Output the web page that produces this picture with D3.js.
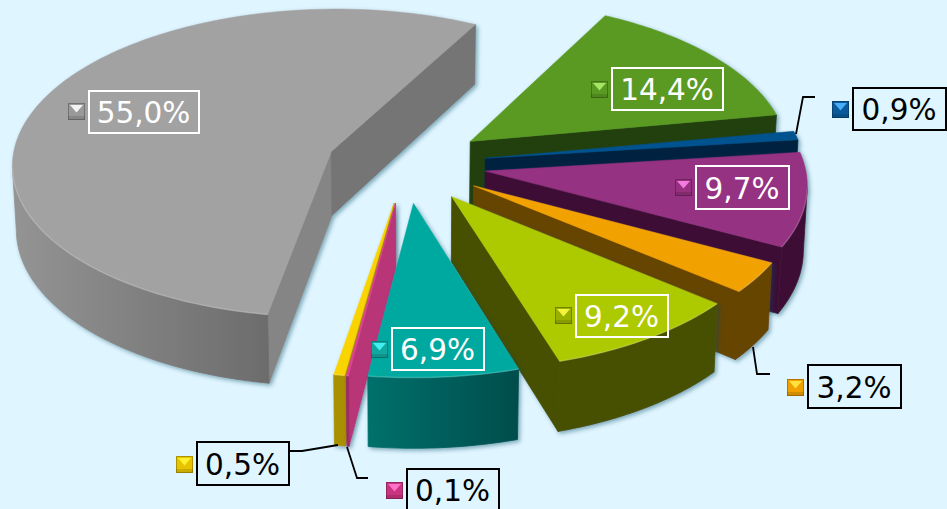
<!DOCTYPE html>
<html>
<head>
<meta charset="utf-8">
<style>
  html, body { margin: 0; padding: 0; background: #dff5ff; overflow: hidden; }
  svg { display: block; }
  text { font-family: "DejaVu Sans", Verdana, sans-serif; }
</style>
<script src="https://cdnjs.cloudflare.com/ajax/libs/d3/7.8.5/d3.min.js"></script>
</head>
<body>
<svg id="chart" width="947" height="509"></svg>
<script>
// Share of each category, clockwise around the pie
const shares = [55.0, 14.4, 0.9, 9.7, 3.2, 9.2, 6.9, 0.1, 0.5];
const shareLabels = ["55,0%", "14,4%", "0,9%", "9,7%", "3,2%", "9,2%", "6,9%", "0,1%", "0,5%"];

// Slices are painted back to front
const paintOrder = [0, 1, 2, 3, 4, 5, 8, 7, 6];

// Face colours per slice
const topColors = ["#a2a2a2", "#5a9a24", "#00528f", "#963082", "#f2a200", "#adc900", "#00a9a0", "#e0409a", "#fad400"];
const rimLeftColors = ["#949494", "#22400a", "#002440", "#3d1135", "#664400", "#465000", "#00706b", "#9c2a66", "#a89000"];
const rimRightColors = ["#6c6c6c", "#22400a", "#002440", "#3d1135", "#664400", "#465000", "#004d4c", "#9c2a66", "#a89000"];
const startWallColors = ["#858585", "#22400a", "#002440", "#3d1135", "#664400", "#465000", "#00706b", "#b83478", "#a89000"];
const endWallColors = ["#747474", "#22400a", "#002440", "#3d1135", "#664400", "#465000", "#00706b", "#b83478", "#a89000"];
const keyColors = ["#999999", "#5a9a24", "#0a5a9a", "#96307f", "#f0a000", "#9ab000", "#12a8a0", "#c8347f", "#e6c400"];
const keyLightColors = ["#f2f2f2", "#a6e464", "#48aef5", "#f27ae0", "#ffe23c", "#f4f43c", "#40f0f0", "#ff70c8", "#fff030"];

// Label frames: left, top, right, bottom
const frameLeft = [89, 612, 853, 696, 808, 576, 392, 407, 197];
const frameTop = [91, 68, 88, 166, 365, 295, 328, 469, 442];
const frameRight = [199, 723, 946, 789, 901, 668, 484, 499, 289];
const frameBottom = [133, 110, 130, 209, 408, 337, 370, 511, 485];
const keyLeft = [68, 591, 832, 675, 787, 555, 371, 386, 176];
const keyTop = [103, 81, 101, 179, 379, 307, 341, 482, 456];
const labelInk = ["#fff", "#fff", "#000", "#fff", "#000", "#fff", "#fff", "#000", "#000"];

// Leader lines for the labels placed outside their slices
const leaders = [
  { i: 2, pts: [[796, 134], [803, 97], [815, 97]] },
  { i: 4, pts: [[753, 347], [757, 374], [770, 374]] },
  { i: 7, pts: [[347, 447], [357, 478], [368, 478]] },
  { i: 8, pts: [[338, 445], [302, 451], [290, 451]] }
];

// View of the pie: tilted disc with slight perspective
const centerX = 406.5, centerY = 164, radiusX = 319.5, radiusY = 155;
const perspective = 0.075, thickness = 64, baseShrink = 0.99, explode = 0.25;
const firstAngle = -170.3;

const xScale = d3.scaleLinear().domain([-1, 1]).range([centerX - radiusX, centerX + radiusX]);
const yScale = d3.scaleLinear().domain([-1, 1]).range([centerY + radiusY, centerY - radiusY]);

// Ground-plane point to the screen, on the top face of the disc
function project(u, v) {
  const f = 1 / (1 + perspective * v);
  return [xScale(u * f), yScale(v * f), f];
}
// The same point on the underside of the disc
function drop(p) {
  return [centerX + (p[0] - centerX) * baseShrink, p[1] + thickness * p[2]];
}

const pie = d3.pie().sort(null)
  .startAngle(firstAngle * Math.PI / 180)
  .endAngle((firstAngle + 360) * Math.PI / 180);
const arcs = pie(shares);

const svg = d3.select("#chart");
const defs = svg.append("defs");
const shadow = defs.append("filter").attr("id", "soft-shadow")
  .attr("x", "-10%").attr("y", "-10%").attr("width", "125%").attr("height", "125%");
shadow.append("feDropShadow").attr("dx", 2).attr("dy", 2).attr("stdDeviation", 2)
  .attr("flood-color", "#0a4a64").attr("flood-opacity", 0.45);

svg.append("rect").attr("width", 947).attr("height", 509).attr("fill", "#dff5ff");

const poly = d3.line();

paintOrder.forEach(i => {
  const a = arcs[i];
  const mid = (a.startAngle + a.endAngle) / 2;
  const apexU = explode * Math.sin(mid), apexV = explode * Math.cos(mid);
  const pointAt = t => project(apexU + Math.sin(t), apexV + Math.cos(t));
  const apex = project(apexU, apexV);

  const steps = Math.max(2, Math.ceil((a.endAngle - a.startAngle) * 180 / Math.PI));
  const rim = d3.range(steps + 1).map(k => pointAt(a.startAngle + (a.endAngle - a.startAngle) * k / steps));

  const g = svg.append("g").attr("filter", "url(#soft-shadow)");

  // A straight cut face shows only when the slice body lies above its edge
  const half = (a.endAngle - a.startAngle) / 2;
  const cutVisible = (outer, inward) => {
    const probe = pointAt(inward);
    const lineY = apex[1] + (outer[1] - apex[1]) * (probe[0] - apex[0]) / (outer[0] - apex[0]);
    return probe[1] < lineY;
  };
  const cut = (outer, color) => g.append("path")
    .attr("d", poly([apex, outer, drop(outer), drop(apex)]) + "Z")
    .attr("fill", color).attr("stroke", color).attr("stroke-width", 0.8);

  const first = rim[0], last = rim[rim.length - 1];
  if (cutVisible(first, a.startAngle + half)) cut(first, startWallColors[i]);
  if (cutVisible(last, a.endAngle - half)) cut(last, endWallColors[i]);

  // Outer wall: the stretch of rim that runs right to left on screen faces the viewer
  const front = rim.filter((p, k) => {
    const next = rim[Math.min(k + 1, rim.length - 1)], prev = rim[Math.max(k - 1, 0)];
    return next[0] < prev[0];
  });
  if (front.length > 1) {
    const gradId = "rim-" + i;
    const grad = defs.append("linearGradient").attr("id", gradId);
    grad.append("stop").attr("offset", "0%").attr("stop-color", rimLeftColors[i]);
    grad.append("stop").attr("offset", "100%").attr("stop-color", rimRightColors[i]);
    g.append("path")
      .attr("d", poly(front.concat(front.map(drop).reverse())) + "Z")
      .attr("fill", `url(#${gradId})`)
      .attr("stroke", `url(#${gradId})`).attr("stroke-width", 0.8);
  }

  // Top face
  g.append("path")
    .attr("d", poly([apex].concat(rim)) + "Z")
    .attr("fill", topColors[i]).attr("stroke", topColors[i]).attr("stroke-width", 0.5);

  // Bevel highlight along the front of the top face
  if (front.length > 1) {
    g.append("path").attr("d", poly(front)).attr("fill", "none")
      .attr("stroke", "#fff").attr("stroke-opacity", 0.18).attr("stroke-width", 1.5);
  }
});

// Leader lines
leaders.forEach(l => {
  svg.append("path").attr("d", poly(l.pts)).attr("fill", "none")
    .attr("stroke", "#000").attr("stroke-width", 1.8);
});

// Data labels: bevelled colour key plus a framed percentage
shareLabels.forEach((label, i) => {
  const x = keyLeft[i], y = keyTop[i], s = 17;
  const key = svg.append("g");
  key.append("rect").attr("x", x).attr("y", y).attr("width", s).attr("height", s)
    .attr("fill", keyColors[i]);
  key.append("rect").attr("x", x).attr("y", y + s - 4).attr("width", s).attr("height", 4)
    .attr("fill", "#000").attr("fill-opacity", 0.12);
  key.append("path")
    .attr("d", poly([[x + 2, y + 2], [x + s - 2, y + 2], [x + s / 2, y + s / 2 + 1]]) + "Z")
    .attr("fill", keyLightColors[i]);
  key.append("rect").attr("x", x + 0.5).attr("y", y + 0.5).attr("width", s - 1).attr("height", s - 1)
    .attr("fill", "none").attr("stroke", "#000").attr("stroke-opacity", 0.25);

  const l = frameLeft[i], t = frameTop[i], r = frameRight[i], b = frameBottom[i];
  svg.append("rect").attr("x", l).attr("y", t).attr("width", r - l).attr("height", b - t)
    .attr("fill", "none").attr("stroke", labelInk[i]).attr("stroke-width", 2);
  svg.append("text")
    .attr("x", (l + r) / 2 - 0.5).attr("y", (t + b) / 2 + 11)
    .attr("text-anchor", "middle").attr("font-size", 29.5)
    .attr("fill", labelInk[i]).text(label);
});
</script>
</body>
</html>
